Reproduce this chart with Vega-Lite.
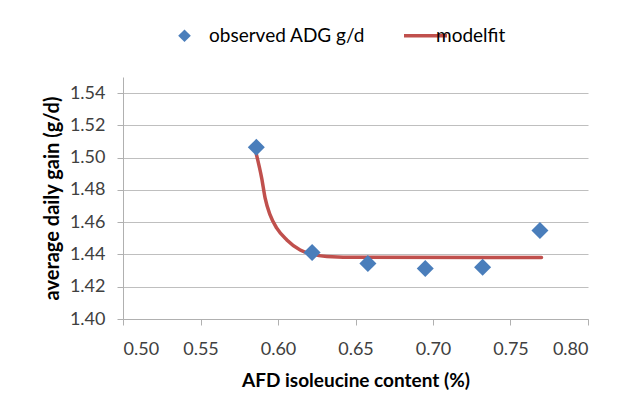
{
  "$schema": "https://vega.github.io/schema/vega-lite/v6.json",
  "width": 465,
  "height": 242,
  "autosize": {"type": "none"},
  "padding": {"left": 123, "top": 77, "right": 51, "bottom": 96},
  "background": "white",
  "config": {
    "font": "Lato",
    "view": {"stroke": null},
    "axis": {"labelFont": "Lato", "titleFont": "Lato"}
  },
  "datasets": {
    "obs": [
      {"x": 0.586, "y": 1.5064, "series": "observed ADG g/d"},
      {"x": 0.622, "y": 1.4412, "series": "observed ADG g/d"},
      {"x": 0.658, "y": 1.4344, "series": "observed ADG g/d"},
      {"x": 0.695, "y": 1.4313, "series": "observed ADG g/d"},
      {"x": 0.732, "y": 1.4321, "series": "observed ADG g/d"},
      {"x": 0.769, "y": 1.4548, "series": "observed ADG g/d"}
    ],
    "fit": [
      {"x": 0.5859, "y": 1.5027, "series": "modelfit"},
      {"x": 0.5895, "y": 1.4872, "series": "modelfit"},
      {"x": 0.5917, "y": 1.4749, "series": "modelfit"},
      {"x": 0.5949, "y": 1.4645, "series": "modelfit"},
      {"x": 0.5992, "y": 1.4563, "series": "modelfit"},
      {"x": 0.6057, "y": 1.449, "series": "modelfit"},
      {"x": 0.6143, "y": 1.4428, "series": "modelfit"},
      {"x": 0.6214, "y": 1.4404, "series": "modelfit"},
      {"x": 0.6315, "y": 1.4388, "series": "modelfit"},
      {"x": 0.653, "y": 1.4382, "series": "modelfit"},
      {"x": 0.77, "y": 1.4381, "series": "modelfit"}
    ]
  },
  "encoding": {
    "x": {
      "field": "x", "type": "quantitative",
      "scale": {"domain": [0.5, 0.8], "nice": false, "zero": false},
      "axis": {
        "title": "AFD isoleucine content (%)",
        "values": [0.5, 0.55, 0.6, 0.65, 0.7, 0.75, 0.8],
        "format": ".2f",
        "grid": false,
        "domainColor": "#b0b0b0",
        "tickColor": "#b0b0b0",
        "tickSize": 6,
        "labelFontSize": 18,
        "labelColor": "#404040",
        "labelPadding": 15,
        "titleFontSize": 19,
        "titleFontWeight": "bold",
        "titleColor": "#000000",
        "titlePadding": 13
      }
    },
    "y": {
      "field": "y", "type": "quantitative",
      "scale": {"domain": [1.4, 1.55], "nice": false, "zero": false},
      "axis": {
        "title": "average daily gain (g/d)",
        "values": [1.4, 1.42, 1.44, 1.46, 1.48, 1.5, 1.52, 1.54],
        "format": ".2f",
        "grid": true,
        "gridColor": "#bfbfbf",
        "gridWidth": 1.2,
        "domainColor": "#b0b0b0",
        "tickColor": "#b0b0b0",
        "tickSize": 6,
        "labelFontSize": 18,
        "labelColor": "#404040",
        "labelPadding": 12,
        "titleFontSize": 20,
        "titleFontWeight": "bold",
        "titleColor": "#000000",
        "titlePadding": 7
      }
    },
    "color": {
      "field": "series", "type": "nominal",
      "scale": {"domain": ["observed ADG g/d", "modelfit"], "range": ["#4a7ebb", "#c0504d"]},
      "legend": {
        "title": null,
        "orient": "none",
        "legendX": 52,
        "legendY": -51,
        "direction": "horizontal",
        "labelFontSize": 19,
        "labelColor": "#000000",
        "labelFont": "Lato",
        "labelOffset": 0,
        "columnPadding": 32,
        "symbolSize": 1849,
        "symbolStrokeWidth": 0,
        "encode": {
          "labels": {
            "update": {
              "dx": {"signal": "datum.value === 'modelfit' ? 1 : 15"}
            }
          },
          "symbols": {
            "update": {
              "shape": {"signal": "datum.value === 'modelfit' ? 'stroke' : 'diamond'"},
              "size": {"signal": "datum.value === 'modelfit' ? 1849 : 160"},
              "strokeWidth": {"signal": "datum.value === 'modelfit' ? 3.5 : 0"},
              "stroke": {"signal": "datum.value === 'modelfit' ? '#c0504d' : null"},
              "fill": {"signal": "datum.value === 'modelfit' ? null : '#4a7ebb'"}
            }
          }
        }
      }
    }
  },
  "layer": [
    {
      "data": {"name": "fit"},
      "mark": {"type": "line", "interpolate": "monotone", "strokeWidth": 3.5, "strokeCap": "round"}
    },
    {
      "data": {"name": "obs"},
      "mark": {"type": "point", "shape": "diamond", "filled": true, "size": 290, "opacity": 1}
    }
  ]
}
